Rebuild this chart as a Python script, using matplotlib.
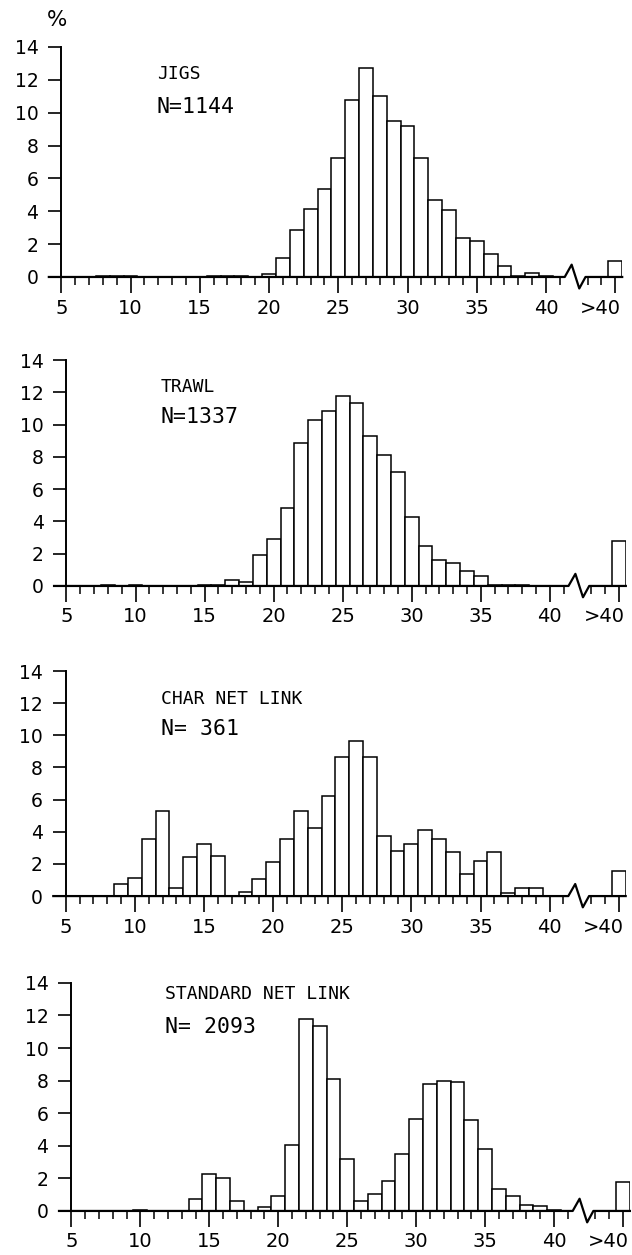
import matplotlib
matplotlib.use("Agg")
import matplotlib.pyplot as plt
import matplotlib.transforms as mtransforms
import numpy as np

# length classes (cm), the open ">40" class is drawn at position 45
LENGTHS = list(range(5, 41))
OVER40_POS = 45

JIGS = [0, 0, 0, 0.03, 0.03, 0.03, 0, 0, 0, 0, 0, 0.05, 0.08, 0.04, 0, 0.2,
        1.15, 2.87, 4.15, 5.36, 7.27, 10.8, 12.7, 11.0, 9.47, 9.17, 7.25,
        4.68, 4.09, 2.35, 2.2, 1.38, 0.65, 0.08, 0.24, 0.08]
JIGS_OVER40 = 1.0

TRAWL = [0, 0, 0, 0.03, 0, 0.03, 0, 0, 0, 0, 0.05, 0.08, 0.4, 0.25, 1.9,
         2.89, 4.86, 8.88, 10.27, 10.83, 11.76, 11.34, 9.32, 8.1, 7.09, 4.26,
         2.48, 1.59, 1.4, 0.95, 0.62, 0.05, 0.05, 0.05, 0, 0]
TRAWL_OVER40 = 2.81

CHAR = [0, 0, 0, 0, 0.77, 1.14, 3.58, 5.3, 0.48, 2.44, 3.27, 2.48, 0, 0.23,
        1.08, 2.15, 3.58, 5.3, 4.22, 6.25, 8.65, 9.63, 8.65, 3.75, 2.82, 3.21,
        4.14, 3.52, 2.75, 1.35, 2.19, 2.75, 0.2, 0.52, 0.52, 0]
CHAR_OVER40 = 1.55

STANDARD = [0, 0, 0, 0, 0, 0.03, 0, 0, 0, 0.76, 2.25, 2.05, 0.64, 0, 0.23,
            0.94, 4.06, 11.78, 11.33, 8.11, 3.18, 0.61, 1.02, 1.82, 3.5, 5.66,
            7.81, 7.99, 7.91, 5.59, 3.81, 1.35, 0.94, 0.37, 0.29, 0.05]
STANDARD_OVER40 = 1.8

PANELS = [
    ("JIGS", "N=1144", JIGS, JIGS_OVER40),
    ("TRAWL", "N=1337", TRAWL, TRAWL_OVER40),
    ("CHAR NET LINK", "N= 361", CHAR, CHAR_OVER40),
    ("STANDARD NET LINK", "N= 2093", STANDARD, STANDARD_OVER40),
]

# axes rectangles in figure fraction
RECTS = [
    (0.097, 0.7793, 0.8875, 0.1833),
    (0.1052, 0.5331, 0.885, 0.1800),
    (0.104, 0.2860, 0.886, 0.1793),
    (0.113, 0.0351, 0.8837, 0.1817),
]
# label anchor (x, y of title, y of N) in data units
LABEL_POS = [(11.9, 12.36, 10.35), (11.8, 12.33, 10.47),
             (11.9, 12.26, 10.39), (11.8, 13.3, 11.3)]

# axis break zigzag on the baseline
BREAK_X = [4.1, 41.35, 41.85, 42.4, 42.85, 45.5]
BREAK_Y = [0, 0, 0.75, -0.7, 0, 0]

plt.rcParams["font.family"] = ["DejaVu Sans"]

fig = plt.figure(figsize=(6.32, 12.55), dpi=100)

for (name, n_text, vals, over40), rect, (lx, ly1, ly2) in zip(PANELS, RECTS, LABEL_POS):
    ax = fig.add_axes(rect)
    ax.bar(LENGTHS, vals, width=1.0, facecolor="white", edgecolor="black",
           linewidth=1.1, zorder=2)
    ax.bar([OVER40_POS], [over40], width=1.0, facecolor="white",
           edgecolor="black", linewidth=1.1, zorder=2)
    ax.plot(BREAK_X, BREAK_Y, color="black", lw=1.6, clip_on=False, zorder=3)

    ax.set_xlim(5, 45.5)
    ax.set_ylim(0, 14)
    for s in ("top", "right", "bottom"):
        ax.spines[s].set_visible(False)
    ax.spines["left"].set_linewidth(1.4)

    ax.set_yticks(np.arange(0, 15, 2))
    ax.tick_params(axis="y", direction="out", length=9.5, width=1.2, pad=7,
                   labelsize=13.5)
    major = [5, 10, 15, 20, 25, 30, 35, 40, OVER40_POS]
    ax.set_xticks(major)
    ax.set_xticklabels([str(v) for v in major[:-1]] + [">40"])
    minor = [v for v in range(6, 45) if v % 5 != 0 and v != 42]
    ax.set_xticks(minor, minor=True)
    ax.tick_params(axis="x", which="major", direction="out", length=11.5,
                   width=1.2, pad=4, labelsize=14)
    ax.tick_params(axis="x", which="minor", direction="out", length=5.5,
                   width=1.1)
    last = ax.get_xticklabels()[-1]
    last.set_ha("right")
    last.set_transform(last.get_transform()
                       + mtransforms.ScaledTranslation(4 / 72, 0, fig.dpi_scale_trans))

    ax.text(lx, ly1, name, fontsize=13, va="center", ha="left",
            family="DejaVu Sans Mono")
    ax.text(lx, ly2, n_text, fontsize=15.5, va="center", ha="left",
            family="DejaVu Sans Mono")

fig.text(57 / 632, 1 - 20 / 1255, "%", fontsize=15.5, ha="center", va="center")

fig.savefig("out.png", dpi=100, facecolor="white")
